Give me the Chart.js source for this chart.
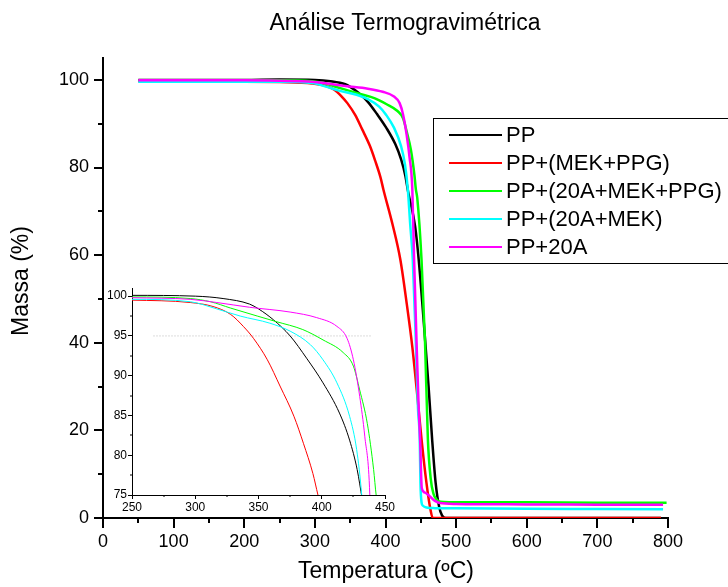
<!DOCTYPE html>
<html>
<head>
<meta charset="utf-8">
<title>Análise Termogravimétrica</title>
<script src="https://cdn.jsdelivr.net/npm/chart.js@4.4.1/dist/chart.umd.min.js"></script>
<style>
  body { margin: 0; background: #fff; }
  #wrap { position: relative; width: 728px; height: 587px; overflow: hidden; }
  #main { position: absolute; left: 0; top: 0; }
  #inset { position: absolute; left: 90px; top: 280px; }
</style>
</head>
<body>
<div id="wrap">
  <canvas id="main" width="728" height="587"></canvas>
  <canvas id="inset" width="310" height="240"></canvas>
</div>
<script>
// textos
const chartTitle = 'Análise Termogravimétrica';
const xTitle = 'Temperatura (ºC)';
const yTitle = 'Massa (%)';
const seriesNames = ['PP', 'PP+(MEK+PPG)', 'PP+(20A+MEK+PPG)', 'PP+(20A+MEK)', 'PP+20A'];
const seriesColors = ['#000000', '#ff0000', '#00ff00', '#00ffff', '#ff00ff'];

// dados (temperatura ºC / massa %)
const ppTemp = [50, 100, 150, 200, 250, 300, 322, 343, 350, 362, 375, 388, 401, 414, 422, 428, 432, 442, 447, 455, 461, 466, 471, 476, 480, 485, 500, 600, 700, 790];
const ppMass = [100, 100, 100, 100, 100.1, 100, 99.7, 99, 98.4, 97, 95, 92.2, 89.1, 85.3, 81.9, 78.2, 74.5, 66.5, 59, 43, 30, 18, 8, 2.5, 0.6, 0, 0, 0, 0, 0];

const mekTemp = [50, 100, 150, 200, 250, 296, 314, 328, 338, 346, 357, 367, 378, 385.5, 393, 397, 410, 421, 430, 438, 445, 451, 458, 463, 467, 480, 600, 700, 790];
const mekMass = [99.7, 99.7, 99.6, 99.6, 99.5, 99.2, 98.7, 97.7, 96.2, 94.7, 92, 88.7, 84.9, 81.5, 77.7, 75, 67, 59, 49, 39, 28, 18, 8, 2.5, 0, 0, 0, 0, 0];

const mix3Temp = [50, 100, 150, 200, 250, 296, 312, 328, 349, 364, 385, 401, 417, 425, 430, 436, 441, 443, 445, 451, 456, 460, 464, 468, 472, 478, 490, 600, 700, 798];
const mix3Mass = [99.9, 99.9, 99.9, 99.9, 99.9, 99.7, 99.3, 98.5, 97.5, 96.8, 95.8, 94.5, 92.9, 91.2, 88.2, 84, 78.2, 75, 73, 59, 40, 18, 9, 5.5, 4.3, 3.7, 3.6, 3.6, 3.5, 3.5];

const mix2Temp = [50, 100, 150, 200, 250, 296, 317, 335.5, 359, 375, 391, 401, 412, 422, 427.6, 431.6, 435, 438.6, 443, 446, 448.5, 449.5, 451, 453, 458, 470, 500, 600, 700, 793];
const mix2Mass = [99.6, 99.6, 99.6, 99.6, 99.6, 99.3, 98.4, 97.5, 96.6, 95.6, 93.9, 92, 89.1, 84.9, 80.7, 75, 67, 59, 40, 25, 17.8, 8, 3.6, 2.8, 2.4, 2.25, 2.2, 2.1, 2.05, 2.0];

const clayTemp = [50, 100, 150, 200, 250, 296, 317, 343, 375, 396, 412, 420, 425, 430, 434, 438, 440.5, 444, 447, 449, 451.4, 456, 463, 470, 477, 500, 600, 700, 793];
const clayMass = [99.9, 99.9, 99.9, 99.9, 99.8, 99.6, 99.2, 98.6, 98, 97.3, 96.2, 94.7, 92, 87.4, 82.4, 75, 59, 40, 25, 17.8, 6.8, 5.8, 4.9, 3.9, 3.4, 3.2, 3.1, 3.05, 3.0];

// linha pontilhada do detalhe (95 %)
const refLineTemp = [267, 440];
const refLineMass = [95, 95];

const allTemp = [ppTemp, mekTemp, mix3Temp, mix2Temp, clayTemp];
const allMass = [ppMass, mekMass, mix3Mass, mix2Mass, clayMass];

const FONT = '"Liberation Sans", Arial, sans-serif';

function toPoints(xs, ys) {
  return xs.map((x, i) => ({ x: x, y: ys[i] }));
}

function buildDatasets(width) {
  return seriesNames.map((name, i) => ({
    label: name,
    data: toPoints(allTemp[i], allMass[i]),
    borderColor: seriesColors[i],
    borderWidth: width,
    pointRadius: 0,
    fill: false,
    cubicInterpolationMode: 'monotone',
    order: seriesNames.length - i
  }));
}

// marcas menores nos eixos
const minorTicks = {
  id: 'minorTicks',
  afterDraw(chart, args, o) {
    const ctx = chart.ctx;
    const x = chart.scales.x, y = chart.scales.y;
    ctx.save();
    ctx.strokeStyle = '#000';
    ctx.lineWidth = o.width;
    ctx.beginPath();
    for (let v = x.min; v <= x.max + 1e-6; v += o.xStep) {
      if (Math.abs(v / o.xMajor - Math.round(v / o.xMajor)) < 1e-6) continue;
      const px = Math.round(x.getPixelForValue(v));
      ctx.moveTo(px, y.bottom);
      ctx.lineTo(px, y.bottom + o.len);
    }
    for (let v = o.yStart; v <= o.yEnd + 1e-6; v += o.yStep) {
      if (Math.abs(v / o.yMajor - Math.round(v / o.yMajor)) < 1e-6) continue;
      const py = Math.round(y.getPixelForValue(v));
      ctx.moveTo(x.left, py);
      ctx.lineTo(x.left - o.len, py);
    }
    ctx.stroke();
    ctx.restore();
  }
};

// titulo, rotulos dos eixos e legenda
const texts = {
  id: 'texts',
  afterDraw(chart) {
    const ctx = chart.ctx;
    ctx.save();
    ctx.fillStyle = '#000';
    ctx.textAlign = 'center';
    ctx.textBaseline = 'middle';
    ctx.font = '23px ' + FONT;
    ctx.fillText(chartTitle, 405, 24);
    ctx.fillText(xTitle, 386, 572);
    ctx.save();
    ctx.translate(22, 281);
    ctx.rotate(-Math.PI / 2);
    ctx.fillText(yTitle, 0, 0);
    ctx.restore();

    // legenda
    ctx.strokeStyle = '#000';
    ctx.lineWidth = 1;
    ctx.strokeRect(433.5, 118.5, 320, 145);
    ctx.textAlign = 'left';
    ctx.font = '22px ' + FONT;
    seriesNames.forEach((name, i) => {
      const yy = 135 + i * 28;
      ctx.strokeStyle = seriesColors[i];
      ctx.lineWidth = 2;
      ctx.beginPath();
      ctx.moveTo(449, yy);
      ctx.lineTo(502, yy);
      ctx.stroke();
      ctx.fillText(name, 506, yy + 1);
    });
    ctx.restore();
  }
};

new Chart(document.getElementById('main'), {
  type: 'line',
  data: { datasets: buildDatasets(2.5) },
  options: {
    responsive: false,
    animation: false,
    layout: { padding: { left: 0, top: 58, right: 60, bottom: 0 } },
    plugins: {
      legend: { display: false },
      tooltip: { enabled: false },
      minorTicks: { xStep: 50, xMajor: 100, yStart: 0, yEnd: 100, yStep: 10, yMajor: 20, len: 5, width: 2 }
    },
    scales: {
      x: {
        type: 'linear', min: 0, max: 800,
        afterFit: s => { s.height = 69; },
        border: { display: true, color: '#000', width: 2 },
        grid: { drawOnChartArea: false, drawTicks: true, tickLength: 10, color: '#000', lineWidth: 2 },
        ticks: { stepSize: 100, includeBounds: false, color: '#000', padding: 3, maxRotation: 0, font: { size: 18, family: FONT } }
      },
      y: {
        type: 'linear', min: 0, max: 105,
        afterFit: s => { s.width = 103; },
        border: { display: true, color: '#000', width: 2 },
        grid: { drawOnChartArea: false, drawTicks: true, tickLength: 9, color: '#000', lineWidth: 2 },
        ticks: { stepSize: 20, includeBounds: false, color: '#000', padding: 5, font: { size: 18, family: FONT } }
      }
    }
  },
  plugins: [minorTicks, texts]
});

// detalhe (inset)
const insetSets = buildDatasets(1);
insetSets.push({
  label: 'ref',
  data: toPoints(refLineTemp, refLineMass),
  borderColor: '#b8b8b8',
  borderWidth: 1,
  borderDash: [1, 2],
  pointRadius: 0,
  order: 10
});

new Chart(document.getElementById('inset'), {
  type: 'line',
  data: { datasets: insetSets },
  options: {
    responsive: false,
    animation: false,
    layout: { padding: { left: 0, top: 8, right: 15, bottom: 0 } },
    plugins: {
      legend: { display: false },
      tooltip: { enabled: false },
      minorTicks: { xStep: 25, xMajor: 50, yStart: 75, yEnd: 100, yStep: 2.5, yMajor: 5, len: 2, width: 1 }
    },
    scales: {
      x: {
        type: 'linear', min: 250, max: 450,
        afterFit: s => { s.height = 25; },
        border: { display: true, color: '#000', width: 1 },
        grid: { drawOnChartArea: false, drawTicks: true, tickLength: 4, color: '#000', lineWidth: 1 },
        ticks: { stepSize: 50, includeBounds: false, color: '#000', padding: 1, maxRotation: 0, font: { size: 12, family: FONT } }
      },
      y: {
        type: 'linear', min: 75, max: 101,
        afterFit: s => { s.width = 42; },
        border: { display: true, color: '#000', width: 1 },
        grid: { drawOnChartArea: false, drawTicks: true, tickLength: 4, color: '#000', lineWidth: 1 },
        ticks: { stepSize: 5, includeBounds: false, color: '#000', padding: 1, font: { size: 12, family: FONT } }
      }
    }
  },
  plugins: [minorTicks]
});
</script>
</body>
</html>
